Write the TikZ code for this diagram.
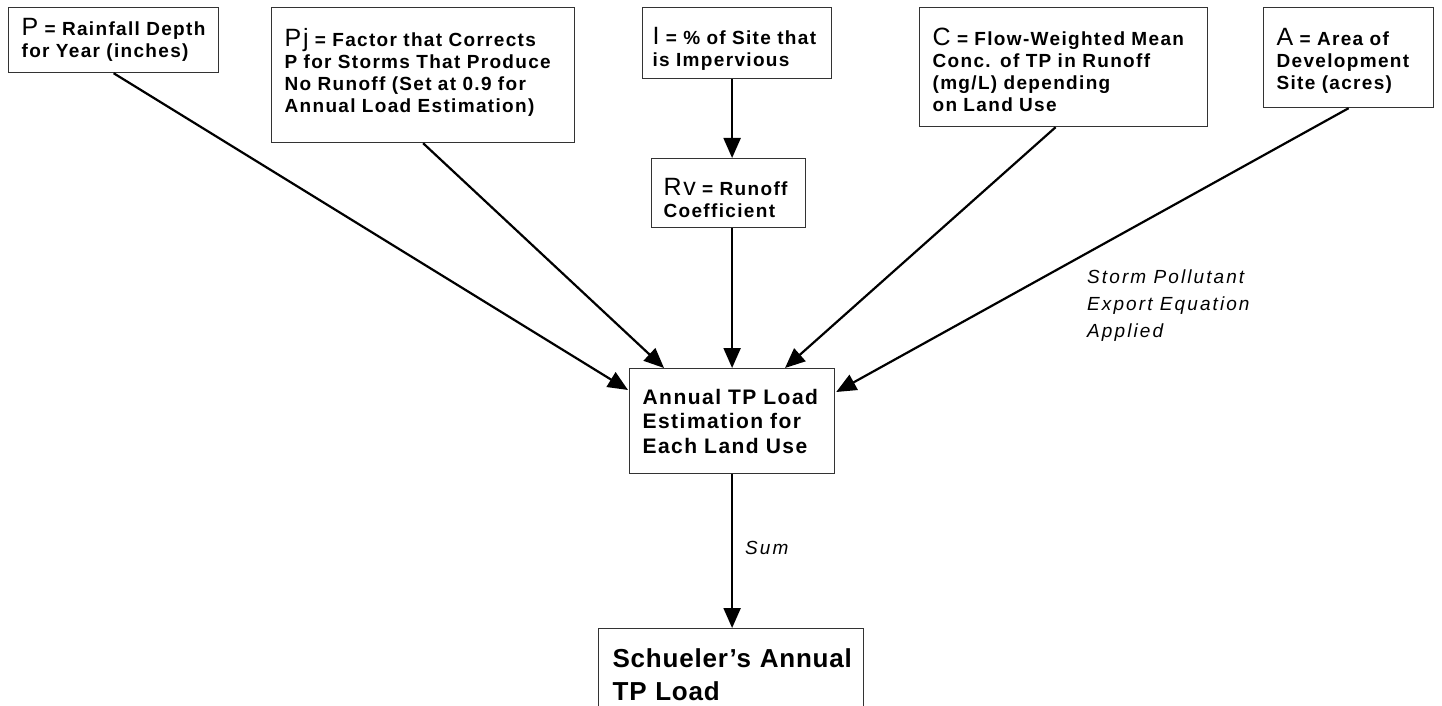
\documentclass[tikz,border=0pt]{standalone}
\usepackage{fontspec}
\setmainfont{Liberation Sans}
\newfontfamily\trackfont[LetterSpace=7]{Liberation Sans}
\newfontfamily\trackbig[LetterSpace=3]{Liberation Sans}
\newfontfamily\trackit[LetterSpace=11]{Liberation Sans}
\usetikzlibrary{arrows.meta,calc}
\newcommand\boxfont{\trackfont\bfseries\fontsize{19bp}{22bp}\selectfont}
\newcommand\annfont{\trackfont\bfseries\fontsize{21bp}{24.5bp}\selectfont}
\newcommand\schfont{\trackbig\bfseries\fontsize{26bp}{33bp}\selectfont}
\newcommand\labfont{\trackit\itshape\fontsize{19bp}{27bp}\selectfont}
\newcommand\Lead[1]{{\fontsize{25bp}{22bp}\selectfont\mdseries #1}}
\newcommand\Up[1]{\rule{0pt}{#1}}
\newcommand\Dn[1]{\rule[-#1]{0pt}{0pt}}
\begin{document}
\begin{tikzpicture}[x=1bp,y=-1bp,
  box/.style={draw=black!80,line width=1.2bp,anchor=north west,inner xsep=13bp,inner ysep=0pt,align=left,font=\boxfont},
  arr/.style={line width=2.2bp,-{Triangle[length=20bp,width=17bp]}},
  lab/.style={inner sep=0pt,align=left,font=\labfont}]
\useasboundingbox[fill=white] (0,0) rectangle (1442,706);
% boxes
\node[box,minimum width=210bp,text width=184bp,minimum height=65bp] (P) at (8,7)
  {\mbox{\Lead{P} = Rainfall Depth}\\\mbox{for Year (inches)}};
\node[box,minimum width=303bp,text width=277bp,minimum height=135bp] (Pj) at (271,7)
  {\mbox{\Lead{Pj} = Factor that Corrects}\\\mbox{P for Storms That Produce}\\\mbox{No Runoff (Set at 0.9 for}\\\mbox{Annual Load Estimation)\Dn{10bp}}};
\node[box,minimum width=189bp,minimum height=71bp,inner xsep=10bp,text width=169bp] (I) at (642,7)
  {\mbox{\Up{28bp}\Lead{I} = \% of Site that}\\\mbox{is Impervious}};
\node[box,minimum width=154bp,minimum height=69bp,inner xsep=12bp,text width=130bp] (Rv) at (651,158)
  {\mbox{\Up{27bp}\Lead{Rv} = Runoff}\\\mbox{Coefficient}};
\node[box,minimum width=288bp,text width=262bp,minimum height=119bp] (C) at (919,7)
  {\mbox{\Up{22bp}\Lead{C} = Flow-Weighted Mean}\\\mbox{Conc. of TP in Runoff}\\\mbox{(mg/L) depending}\\\mbox{on Land Use}};
\node[box,minimum width=170bp,text width=144bp,minimum height=100bp] (A) at (1263,7)
  {\mbox{\Up{24bp}\Lead{A} = Area of}\\\mbox{Development}\\\mbox{Site (acres)}};
\node[box,font=\annfont,minimum width=205bp,text width=179bp,minimum height=105bp] (ann) at (629,368)
  {\mbox{Annual TP Load}\\\mbox{Estimation for}\\\mbox{Each Land Use}};
\node[box,font=\schfont,minimum width=265bp,text width=237bp,inner xsep=14bp,minimum height=92bp] (sch) at (598,628)
  {\mbox{Schueler’s Annual}\\\mbox{TP Load}};
% connectors
\draw[arr] (P.south) -- ($(ann.north west)+(-1,22)$);
\draw[arr] (Pj.south) -- ($(ann.north west)+(35,0)$);
\draw[arr] (I.south -| ann.north) -- (Rv.north -| ann.north);
\draw[arr] (Rv.south -| ann.north) -- (ann.north);
\draw[arr] ($(C.south)+(-8,0)$) -- ($(ann.north west)+(156,0)$);
\draw[arr] (A.south) -- ($(ann.north east)+(1,24)$);
\draw[arr] (ann.south) -- (sch.north -| ann.south);
% labels
\node[lab,anchor=north west] (storm) at (1087,270) {Storm Pollutant\\Export Equation\\Applied};
\node[lab,anchor=west] (sum) at (745,548) {Sum};
\end{tikzpicture}
\end{document}
